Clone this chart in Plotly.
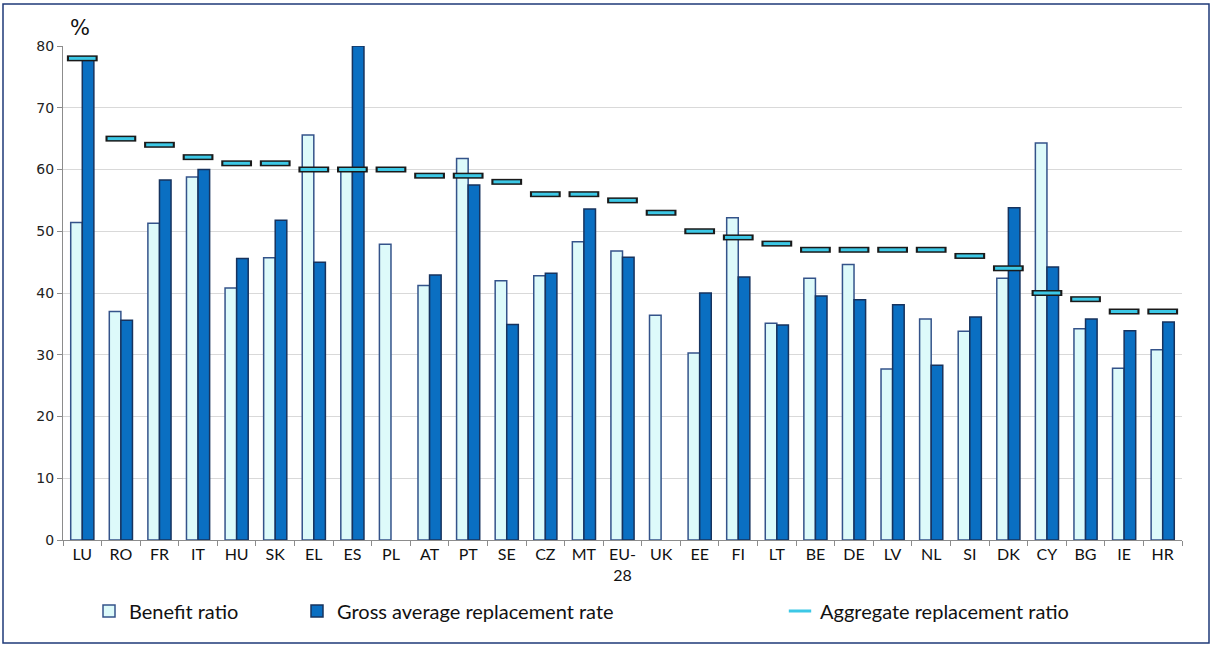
import plotly.graph_objects as go

categories = ["LU", "RO", "FR", "IT", "HU", "SK", "EL", "ES", "PL", "AT", "PT", "SE", "CZ", "MT", "EU-28",
              "UK", "EE", "FI", "LT", "BE", "DE", "LV", "NL", "SI", "DK", "CY", "BG", "IE", "HR"]
tick_labels = ["LU", "RO", "FR", "IT", "HU", "SK", "EL", "ES", "PL", "AT", "PT", "SE", "CZ", "MT", "EU-<br>28",
               "UK", "EE", "FI", "LT", "BE", "DE", "LV", "NL", "SI", "DK", "CY", "BG", "IE", "HR"]
benefit_ratio = [51.4, 37.0, 51.3, 58.8, 40.8, 45.7, 65.6, 60.0, 47.9, 41.2, 61.8, 42.0, 42.8, 48.3, 46.8,
                 36.4, 30.3, 52.2, 35.1, 42.4, 44.6, 27.7, 35.8, 33.8, 42.4, 64.3, 34.2, 27.8, 30.8]
gross_replacement = [77.8, 35.6, 58.3, 60.0, 45.6, 51.8, 45.0, 80.0, None, 42.9, 57.5, 34.9, 43.2, 53.6, 45.8,
                     None, 40.0, 42.6, 34.8, 39.5, 38.9, 38.1, 28.3, 36.1, 53.8, 44.2, 35.8, 33.9, 35.3]
aggregate_ratio = [78, 65, 64, 62, 61, 61, 60, 60, 60, 59, 59, 58, 56, 56, 55,
                   53, 50, 49, 48, 47, 47, 47, 47, 46, 44, 40, 39, 37, 37]

W, H = 1212, 646
ML, MR, MT, MB = 63, 30, 46, 106
PW, PH = W - ML - MR, H - MT - MB


def px_x(x):
    return (x - ML) / PW


def px_y(y):
    return (H - MB - y) / PH


fig = go.Figure()
fig.add_trace(go.Bar(
    x=categories, y=benefit_ratio, name="Benefit ratio",
    marker=dict(color="#DDFAFA", line=dict(color="#34538A", width=1.5)),
    legend="legend",
))
fig.add_trace(go.Bar(
    x=categories, y=gross_replacement, name="Gross average replacement rate",
    marker=dict(color="#0A6FC2", line=dict(color="#17335E", width=1.5)),
    legend="legend2",
))
fig.add_trace(go.Scatter(
    x=categories, y=aggregate_ratio, mode="markers", name="Aggregate replacement ratio",
    marker=dict(symbol="line-ew", size=22, line=dict(color="#1A1A1A", width=6)),
    showlegend=False, hoverinfo="skip",
))
fig.add_trace(go.Scatter(
    x=categories, y=aggregate_ratio, mode="markers", name="Aggregate replacement ratio",
    marker=dict(symbol="line-ew", size=19, line=dict(color="#3CC8E6", width=3)),
    legend="legend3",
))

legend_common = dict(orientation="h", yanchor="middle", xanchor="left",
                     font=dict(family="Lato", size=20, color="#111111"),
                     bgcolor="rgba(0,0,0,0)", itemwidth=30, tracegroupgap=0)
fig.update_layout(
    width=W, height=H,
    margin=dict(l=ML, r=MR, t=MT, b=MB),
    paper_bgcolor="white", plot_bgcolor="white",
    barmode="group", bargap=0.4, bargroupgap=0,
    legend=dict(x=px_x(89), y=px_y(611), **legend_common),
    legend2=dict(x=px_x(297), y=px_y(611), **legend_common),
    legend3=dict(x=px_x(780), y=px_y(611), **legend_common),
    xaxis=dict(
        type="category", tickmode="array", tickvals=categories, ticktext=tick_labels,
        tickson="boundaries", ticks="outside", ticklen=5, tickcolor="#8C8C8C",
        showline=True, linecolor="#8C8C8C", linewidth=1,
        tickfont=dict(family="Lato", size=16, color="#111111"),
        showgrid=False, range=[-0.5, len(categories) - 0.5],
    ),
    yaxis=dict(
        range=[0, 80], dtick=10, tick0=0,
        showgrid=True, gridcolor="#D9D9D9", gridwidth=1,
        showline=True, linecolor="#8C8C8C", linewidth=1,
        ticks="outside", ticklen=5, tickcolor="#8C8C8C",
        tickfont=dict(family="DejaVu Sans", size=14, color="#222222"),
        zeroline=False,
    ),
    annotations=[dict(text="%", x=px_x(80), y=px_y(28), xref="paper", yref="paper",
                      xanchor="center", yanchor="middle",
                      showarrow=False, font=dict(family="DejaVu Sans", size=21, color="#111111"))],
    shapes=[dict(type="rect", xref="paper", yref="paper",
                 x0=px_x(3), x1=px_x(1209), y0=px_y(643), y1=px_y(4),
                 line=dict(color="#1F3A78", width=1.5), fillcolor="rgba(0,0,0,0)", layer="below")],
)

fig.write_html("out.html", config={"displayModeBar": False},
               post_script="document.body.style.margin='0';")
